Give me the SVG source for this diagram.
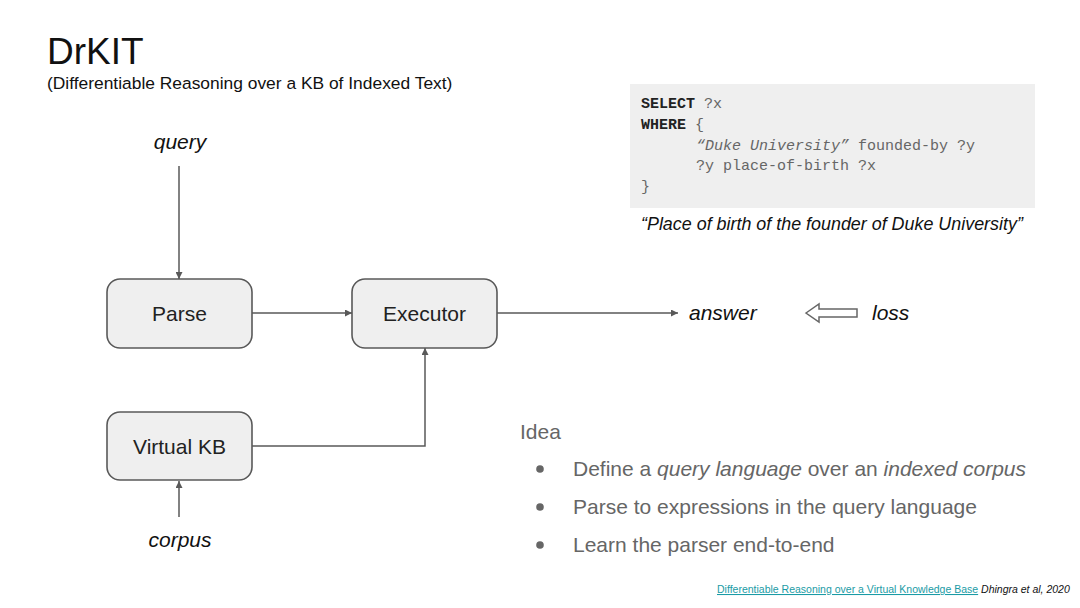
<svg xmlns="http://www.w3.org/2000/svg" width="1080" height="608" viewBox="0 0 1080 608">
<defs>
<style>
.sans{font-family:"Liberation Sans",Arial,sans-serif}
.mono{font-family:"Liberation Mono","Courier New",monospace;font-size:15px;fill:#666}
.box{fill:#efefef;stroke:#595959;stroke-width:1.6}
.lbl{font-family:"Liberation Sans",Arial,sans-serif;font-size:21px;fill:#222;text-anchor:middle}
.it{font-family:"Liberation Sans",Arial,sans-serif;font-size:21px;font-style:italic;fill:#111}
.edge{fill:none;stroke:#595959;stroke-width:1.5}
.idea{font-family:"Liberation Sans",Arial,sans-serif;font-size:21px;fill:#666}
</style>
<marker id="ah" viewBox="0 0 10 10" refX="10" refY="5" markerWidth="7" markerHeight="7" markerUnits="userSpaceOnUse" orient="auto">
<path d="M0,0 L10,5 L0,10 z" fill="#595959"/>
</marker>
</defs>
<rect width="1080" height="608" fill="#fff"/>
<text class="sans" x="47" y="64" font-size="37" fill="#111">DrKIT</text>
<text class="sans" x="47" y="89" font-size="17.4" fill="#111">(Differentiable Reasoning over a KB of Indexed Text)</text>

<g id="query-code">
<rect x="630" y="84" width="405" height="124" fill="#efefef"/>
<text class="mono" x="641" y="108"><tspan font-weight="bold" fill="#222">SELECT</tspan> ?x</text>
<text class="mono" x="641" y="129"><tspan font-weight="bold" fill="#222">WHERE</tspan> {</text>
<text class="mono" x="696" y="150"><tspan font-style="italic">“Duke University”</tspan> founded-by ?y</text>
<text class="mono" x="696" y="170">?y place-of-birth ?x</text>
<text class="mono" x="641" y="191">}</text>
<text class="sans" x="641" y="230" font-size="17.9" font-style="italic" fill="#111">“Place of birth of the founder of Duke University”</text>
</g>

<g id="edges">
<line class="edge" x1="179" y1="166" x2="179" y2="279" marker-end="url(#ah)"/>
<line class="edge" x1="179" y1="517" x2="179" y2="481" marker-end="url(#ah)"/>
<line class="edge" x1="252" y1="313" x2="352" y2="313" marker-end="url(#ah)"/>
<line class="edge" x1="497" y1="313" x2="678" y2="313" marker-end="url(#ah)"/>
<polyline class="edge" points="252,446 425,446 425,348" marker-end="url(#ah)"/>
<path d="M806,313 L819,304 L819,309 L857,309 L857,317 L819,317 L819,322 Z" fill="#fff" stroke="#666" stroke-width="1.5"/>
</g>

<g id="parse"><rect class="box" x="107" y="279" width="145" height="69" rx="13"/><text class="lbl" x="179.5" y="321">Parse</text></g>
<g id="executor"><rect class="box" x="352" y="279" width="145" height="69" rx="13"/><text class="lbl" x="424.5" y="321">Executor</text></g>
<g id="virtualkb"><rect class="box" x="107" y="412" width="145" height="68" rx="13"/><text class="lbl" x="179.5" y="454">Virtual KB</text></g>

<g id="query"><text class="it" x="180" y="149" text-anchor="middle">query</text></g>
<g id="corpus"><text class="it" x="180" y="547" text-anchor="middle">corpus</text></g>
<g id="answer"><text class="it" x="689" y="320">answer</text></g>
<g id="loss"><text class="it" x="872" y="320">loss</text></g>

<g id="idea">
<text class="idea" x="520" y="439">Idea</text>
<circle cx="540" cy="469" r="3.8" fill="#666"/>
<circle cx="540" cy="507" r="3.8" fill="#666"/>
<circle cx="540" cy="545" r="3.8" fill="#666"/>
<text class="idea" x="573" y="476">Define a <tspan font-style="italic">query language</tspan> over an <tspan font-style="italic">indexed corpus</tspan></text>
<text class="idea" x="573" y="514">Parse to expressions in the query language</text>
<text class="idea" x="573" y="552">Learn the parser end-to-end</text>
</g>

<text class="sans" x="717" y="593" font-size="10.5"><tspan fill="#1a9ba5" text-decoration="underline">Differentiable Reasoning over a Virtual Knowledge Base</tspan><tspan fill="#111" font-style="italic"> Dhingra et al, 2020</tspan></text>
</svg>
